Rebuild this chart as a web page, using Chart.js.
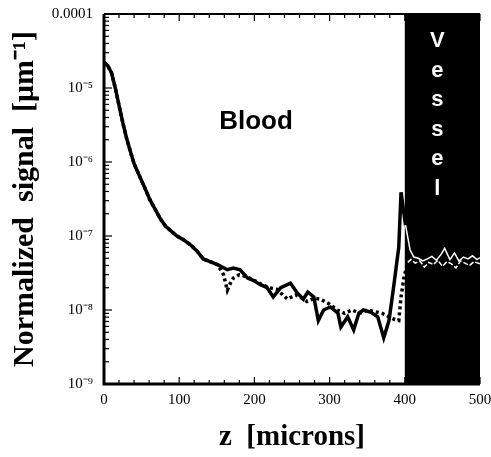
<!DOCTYPE html>
<html>
<head>
<meta charset="utf-8">
<script src="https://cdn.jsdelivr.net/npm/chart.js@4/dist/chart.umd.min.js"></script>
<style>
  html, body { margin: 0; padding: 0; background: #fff; }
  #wrap { width: 491px; height: 457px; }
</style>
</head>
<body>
<div id="wrap"><canvas id="signalChart"></canvas></div>
<script>
// depth (microns) and normalized signal, solid trace
const zSolid = [0, 5, 10, 15, 20, 25, 30, 35, 40, 48, 55, 61, 68, 75, 82, 90, 97, 105, 115, 124, 132, 141, 151, 164, 172, 181, 191, 199, 208, 217, 225, 235, 248, 257, 265, 271, 279, 285, 292, 301, 311, 315, 324, 332, 339, 345, 355, 364, 372, 379, 385, 392, 395, 401, 407, 412, 418, 424, 430, 436, 442, 448, 453, 460, 466, 472, 478, 484, 490, 496, 500];
const signalSolid = [2.2e-5, 2.0e-5, 1.6e-5, 1.0e-5, 5.8e-6, 3.4e-6, 2.1e-6, 1.4e-6, 9.5e-7, 6.2e-7, 4.3e-7, 3.1e-7, 2.3e-7, 1.7e-7, 1.35e-7, 1.15e-7, 1.0e-7, 9.0e-8, 7.6e-8, 6.2e-8, 4.9e-8, 4.5e-8, 4.1e-8, 3.5e-8, 3.7e-8, 3.5e-8, 2.7e-8, 2.5e-8, 2.2e-8, 2.0e-8, 1.5e-8, 2.0e-8, 2.3e-8, 1.7e-8, 1.4e-8, 1.75e-8, 1.5e-8, 7.2e-9, 1.0e-8, 1.1e-8, 9.1e-9, 5.9e-9, 8.1e-9, 5.4e-9, 9.1e-9, 1.0e-8, 9.3e-9, 8.1e-9, 4.2e-9, 7.2e-9, 2.0e-8, 7.1e-8, 3.9e-7, 1.4e-7, 6.5e-8, 5.2e-8, 5.0e-8, 4.6e-8, 4.9e-8, 5.3e-8, 4.7e-8, 5.6e-8, 6.8e-8, 4.8e-8, 5.9e-8, 4.6e-8, 5.2e-8, 4.9e-8, 5.4e-8, 4.8e-8, 5.1e-8];

// dashed trace, splits from the solid one past ~155 microns
const zDashed = [0, 5, 10, 15, 20, 25, 30, 35, 40, 48, 55, 61, 68, 75, 82, 90, 97, 105, 115, 124, 132, 141, 151, 159, 164, 168, 172, 180, 190, 200, 210, 220, 230, 244, 255, 261, 270, 280, 288, 300, 310, 320, 330, 340, 350, 360, 370, 380, 386, 392, 395, 399, 404, 408, 414, 420, 426, 432, 438, 444, 450, 456, 462, 468, 474, 480, 486, 492, 500];
const signalDashed = [2.2e-5, 2.0e-5, 1.6e-5, 1.0e-5, 5.8e-6, 3.4e-6, 2.1e-6, 1.4e-6, 9.5e-7, 6.2e-7, 4.3e-7, 3.1e-7, 2.3e-7, 1.7e-7, 1.35e-7, 1.15e-7, 1.0e-7, 9.0e-8, 7.6e-8, 6.2e-8, 4.9e-8, 4.5e-8, 4.1e-8, 3.0e-8, 1.85e-8, 2.3e-8, 2.7e-8, 3.0e-8, 2.8e-8, 2.5e-8, 2.2e-8, 2.0e-8, 1.9e-8, 1.4e-8, 1.6e-8, 1.5e-8, 1.3e-8, 1.45e-8, 1.4e-8, 1.2e-8, 1.0e-8, 9.0e-9, 1.0e-8, 9.0e-9, 1.0e-8, 9.5e-9, 9.0e-9, 8.0e-9, 7.5e-9, 7.2e-9, 1.5e-8, 2.8e-8, 4.4e-8, 4.8e-8, 4.3e-8, 4.6e-8, 3.8e-8, 4.4e-8, 4.1e-8, 4.7e-8, 3.9e-8, 4.5e-8, 4.2e-8, 3.7e-8, 4.6e-8, 4.3e-8, 4.0e-8, 4.5e-8, 4.2e-8];

const xTicks = [0, 100, 200, 300, 400, 500];
const yTickLabels = { '-4': '0.0001', '-5': '10⁻⁵', '-6': '10⁻⁶', '-7': '10⁻⁷', '-8': '10⁻⁸', '-9': '10⁻⁹' };
const vesselStart = 400;
const vesselLetters = ['V', 'e', 's', 's', 'e', 'l'];

const serif = "'Liberation Serif', 'Times New Roman', serif";
const sans = "'Liberation Sans', Arial, sans-serif";

function toPoints(xs, ys) {
    return xs.map((x, i) => ({ x: x, y: ys[i] }));
}

// white, thinner line once it runs inside the vessel wall
function inVessel(ctx) {
    return ctx.p0.parsed.x >= vesselStart;
}

const framePlugin = {
    id: 'frame',
    beforeDatasetsDraw(chart) {
        const c = chart.ctx;
        const a = chart.chartArea;
        const x0 = chart.scales.x.getPixelForValue(vesselStart);
        c.save();
        c.fillStyle = '#000';
        c.fillRect(x0, a.top, a.right - x0, a.bottom - a.top);
        c.restore();
    },
    afterDatasetsDraw(chart) {
        const c = chart.ctx;
        const a = chart.chartArea;
        const xs = chart.scales.x;
        const ys = chart.scales.y;
        c.save();
        c.strokeStyle = '#000';
        c.lineCap = 'butt';

        // axis lines
        c.lineWidth = 3;
        c.beginPath();
        c.moveTo(a.left, a.top);
        c.lineTo(a.left, a.bottom);
        c.lineTo(a.right, a.bottom);
        c.stroke();
        c.lineWidth = 2;
        c.beginPath();
        c.moveTo(a.left, a.top);
        c.lineTo(a.right, a.top);
        c.stroke();

        // inward ticks, bottom and top
        c.lineWidth = 1.2;
        for (let v = 0; v <= 500; v += 20) {
            const px = xs.getPixelForValue(v);
            const len = v % 100 === 0 ? 7 : 4;
            c.beginPath();
            c.moveTo(px, a.bottom);
            c.lineTo(px, a.bottom - len);
            c.moveTo(px, a.top);
            c.lineTo(px, a.top + len);
            c.stroke();
        }
        // inward ticks, left
        for (let d = -9; d < -4; d++) {
            for (let m = 1; m <= 9; m++) {
                const py = ys.getPixelForValue(m * Math.pow(10, d));
                const len = m === 1 ? 8 : 5;
                c.beginPath();
                c.moveTo(a.left, py);
                c.lineTo(a.left + len, py);
                c.stroke();
            }
        }

        // region labels
        c.fillStyle = '#000';
        c.font = 'bold 26px ' + sans;
        c.textAlign = 'center';
        c.textBaseline = 'alphabetic';
        c.fillText('Blood', 256, 129);

        c.fillStyle = '#fff';
        c.font = 'bold 22px ' + sans;
        const lx = (xs.getPixelForValue(vesselStart) + a.right) / 2 - 5;
        vesselLetters.forEach((ch, i) => {
            c.fillText(ch, lx, 47 + i * 29.5);
        });
        c.restore();
    }
};

const ctx = document.getElementById('signalChart').getContext('2d');

const signalChart = new Chart(ctx, {
    type: 'line',
    data: {
        datasets: [
            {
                label: 'solid',
                data: toPoints(zSolid, signalSolid),
                borderColor: '#000',
                borderWidth: 3.5,
                pointRadius: 0,
                tension: 0,
                segment: {
                    borderColor: c => inVessel(c) ? '#fff' : undefined,
                    borderWidth: c => inVessel(c) ? 1.5 : undefined
                }
            },
            {
                label: 'dashed',
                data: toPoints(zDashed, signalDashed),
                borderColor: '#000',
                borderWidth: 3.5,
                borderDash: [3, 3],
                pointRadius: 0,
                tension: 0,
                segment: {
                    borderColor: c => inVessel(c) ? '#fff' : undefined,
                    borderWidth: c => inVessel(c) ? 1.5 : undefined,
                    borderDash: c => inVessel(c) ? [5, 2] : undefined
                }
            }
        ]
    },
    options: {
        responsive: true,
        maintainAspectRatio: false,
        animation: false,
        events: [],
        layout: { padding: { top: 14, right: 11, left: 0, bottom: 0 } },
        plugins: {
            legend: { display: false },
            tooltip: { enabled: false }
        },
        scales: {
            x: {
                type: 'linear',
                min: 0,
                max: 500,
                afterFit: s => {
                    s.height = 73;
                    s.paddingLeft = 0;
                    s.paddingRight = 0;
                },
                afterBuildTicks: s => { s.ticks = xTicks.map(v => ({ value: v })); },
                grid: { display: false, drawTicks: false },
                border: { display: false },
                ticks: {
                    color: '#000',
                    padding: 7,
                    maxRotation: 0,
                    font: { family: serif, size: 15 }
                },
                title: {
                    display: true,
                    text: 'z  [microns]',
                    color: '#000',
                    padding: { top: 0, bottom: 2 },
                    font: { family: serif, size: 29, weight: 'bold' }
                }
            },
            y: {
                type: 'logarithmic',
                min: 1e-9,
                max: 1e-4,
                afterFit: s => {
                    s.width = 104;
                    s.paddingTop = 0;
                    s.paddingBottom = 0;
                },
                afterBuildTicks: s => {
                    s.ticks = Object.keys(yTickLabels).map(k => ({ value: Math.pow(10, Number(k)) }));
                },
                grid: { display: false, drawTicks: false },
                border: { display: false },
                ticks: {
                    color: '#000',
                    padding: 11,
                    font: { family: serif, size: 15 },
                    callback: v => yTickLabels[String(Math.round(Math.log10(v)))]
                },
                title: {
                    display: true,
                    text: 'Normalized  signal  [μm⁻¹]',
                    color: '#000',
                    padding: { top: 7, bottom: 0 },
                    font: { family: serif, size: 30, weight: 'bold' }
                }
            }
        }
    },
    plugins: [framePlugin]
});
</script>
</body>
</html>
